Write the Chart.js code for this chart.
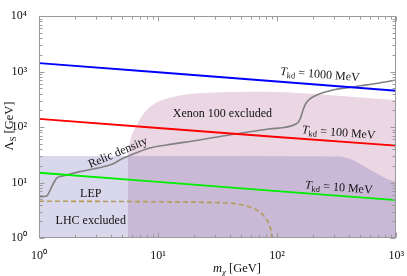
<!DOCTYPE html>
<html><head><meta charset="utf-8">
<script src="https://cdn.jsdelivr.net/npm/chart.js@4"></script>
<style>html,body{margin:0;padding:0;background:#fff}#wrap{width:407px;height:276px;position:relative}</style>
</head><body><div id="wrap"><canvas id="c"></canvas></div>
<script>
// ---- data ----
const tkdMass = [1, 10, 100, 1000];
const tkd1000 = [1420, 970, 660, 450];
const tkd100 = [140, 96, 66, 46];
const tkd10 = [15, 10.3, 7.0, 4.8];

const relicMass = [1, 1.16, 1.21, 1.28, 1.41, 1.59, 2.2, 3.04, 4.16, 4.76, 5.77, 8.5, 11.8, 22.2, 39.6, 85, 144, 156, 165, 175, 193, 225, 294, 432, 674, 1000];
const relicLambda = [5.55, 5.7, 6.5, 8.4, 12.0, 13.1, 15.7, 18.0, 21.5, 25.4, 30.6, 41.9, 47.4, 58.3, 72, 92, 113, 139, 202, 271, 333, 393, 464, 526, 608, 703];

const xenonMass = [5.56, 5.7, 6.0, 6.5, 7.2, 8.2, 9.7, 12, 15, 22, 40, 80, 150, 272, 500, 1000];
const xenonLambda = [29, 45, 70, 100, 150, 210, 275, 330, 370, 405, 428, 430, 410, 377, 340, 306];

const lhcMass = [1, 5.56, 330, 420, 530, 670, 860, 1000];
const lhcLambda = [30, 30, 29.5, 26, 20, 15, 11.3, 10.2];

const lepMass = [1, 10, 22, 42, 58, 71, 80, 87, 89.5, 90.3];
const lepLambda = [4.6, 4.5, 4.4, 4.2, 3.66, 2.98, 2.29, 1.6, 1.25, 1.0];

const xTickValues = [1, 10, 100, 1000];
const xTickLabels = ['10\u2070', '10\u00B9', '10\u00B2', '10\u00B3'];
const yTickValues = [1, 10, 100, 1000, 10000];
const yTickLabels = ['10\u2070', '10\u00B9', '10\u00B2', '10\u00B3', '10\u2074'];

// ---- helpers ----
const pts = (xs, ys) => xs.map((x, i) => ({x, y: ys[i]}));
const SERIF = '"Liberation Serif", "Times New Roman", serif';
const C_LHC = '#d9d7eb', C_XE = '#ebd7e3', C_OV = '#c9b9d6';

function logTicks(min, max) {
  const out = [];
  for (let e = Math.round(Math.log10(min)); e <= Math.round(Math.log10(max)); e++) {
    for (let k = 1; k <= 9; k++) {
      const v = k * Math.pow(10, e);
      if (v >= min * 0.999 && v <= max * 1.001) out.push({value: v, major: k === 1});
    }
  }
  return out;
}

function drawRich(ctx, segs, cx, cy, ang) {
  ctx.save();
  ctx.translate(cx, cy);
  ctx.rotate(ang * Math.PI / 180);
  const f = s => (s.it ? 'italic ' : '') + s.size + 'px ' + SERIF;
  let total = 0;
  segs.forEach(s => { ctx.font = f(s); s.w = ctx.measureText(s.t).width; total += s.w; });
  let x = -total / 2;
  ctx.textBaseline = 'alphabetic';
  ctx.fillStyle = '#111';
  segs.forEach(s => { ctx.font = f(s); ctx.fillText(s.t, x, 4 + (s.dy || 0)); x += s.w; });
  ctx.restore();
}

const labels = [
  {m: 229, l: 900, ang: 4.4, segs: [{t: 'T', it: 1, size: 12}, {t: 'kd', size: 8.5, dy: 2.5}, {t: ' = 1000 MeV', size: 12}]},
  {m: 330, l: 81, ang: 4.4, segs: [{t: 'T', it: 1, size: 12}, {t: 'kd', size: 8.5, dy: 2.5}, {t: ' = 100 MeV', size: 12}]},
  {m: 330, l: 8.3, ang: 4.4, segs: [{t: 'T', it: 1, size: 12}, {t: 'kd', size: 8.5, dy: 2.5}, {t: ' = 10 MeV', size: 12}]},
  {m: 34.7, l: 179, ang: 0, segs: [{t: 'Xenon 100 excluded', size: 12}]},
  {m: 4.58, l: 35.4, ang: -23, segs: [{t: 'Relic density', size: 12}]},
  {m: 2.72, l: 6.47, ang: 0, segs: [{t: 'LEP', size: 12}]},
  {m: 2.72, l: 2.11, ang: 0, segs: [{t: 'LHC excluded', size: 12}]}
];

const decor = {
  id: 'decor',
  afterDatasetsDraw(chart) {
    const {ctx, chartArea: a, scales: {x, y}} = chart;
    ctx.save();
    ctx.strokeStyle = '#9a9a9a';
    ctx.lineWidth = 1;
    const L = Math.round(a.left) + 0.5, R = Math.round(a.right) - 0.5;
    const T = Math.round(a.top) + 0.5, B = Math.round(a.bottom) - 0.5;
    ctx.strokeRect(L, T, R - L, B - T);
    ctx.beginPath();
    x.ticks.forEach(t => {
      const px = Math.round(x.getPixelForValue(t.value)) + 0.5;
      const len = t.major ? 5 : 3;
      ctx.moveTo(px, B); ctx.lineTo(px, B - len);
      ctx.moveTo(px, T); ctx.lineTo(px, T + len);
    });
    y.ticks.forEach(t => {
      const py = Math.round(y.getPixelForValue(t.value)) + 0.5;
      const len = t.major ? 5 : 3;
      ctx.moveTo(L, py); ctx.lineTo(L + len, py);
      ctx.moveTo(R, py); ctx.lineTo(R - len, py);
    });
    ctx.stroke();
    ctx.restore();
    labels.forEach(lb => drawRich(ctx, lb.segs, x.getPixelForValue(lb.m), y.getPixelForValue(lb.l), lb.ang));
    // axis titles
    drawRich(ctx, [{t: 'm', it: 1, size: 12.5}, {t: '\u03C7', it: 1, size: 9, dy: 3}, {t: ' [GeV]', size: 12.5}], a.left + 198, a.bottom + 30, 0);
    drawRich(ctx, [{t: '\u039B', size: 12.5}, {t: 'S', size: 8.5, dy: 2.5}, {t: ' [GeV]', size: 12.5}], 9, (a.top + a.bottom) / 2 - 1, -90);
  }
};

const tickCb = (vals, labs) => v => { const i = vals.findIndex(q => Math.abs(q - v) / q < 1e-6); return i >= 0 ? labs[i] : ''; };

new Chart(document.getElementById('c'), {
  type: 'line',
  data: {
    datasets: [
      {data: pts(lhcMass, lhcLambda), order: 10, fill: 'start', backgroundColor: C_LHC, borderWidth: 0, pointRadius: 0},
      {data: pts(xenonMass, xenonLambda), order: 9, fill: 'start', backgroundColor: C_XE, borderWidth: 0, pointRadius: 0, cubicInterpolationMode: 'monotone'},
      {data: pts(lhcMass, lhcLambda).filter(p => p.x >= 5.56), order: 8, fill: 'start', backgroundColor: C_OV, borderWidth: 0, pointRadius: 0, cubicInterpolationMode: 'monotone'},
      {data: pts(lepMass, lepLambda), order: 5, fill: false, borderColor: '#b39b5c', borderWidth: 1.6, borderDash: [5, 3], pointRadius: 0, cubicInterpolationMode: 'monotone'},
      {data: pts(relicMass, relicLambda), order: 4, fill: false, borderColor: '#808080', borderWidth: 1.6, pointRadius: 0, cubicInterpolationMode: 'monotone'},
      {data: pts(tkdMass, tkd1000), order: 3, fill: false, borderColor: '#0000ff', borderWidth: 1.8, pointRadius: 0},
      {data: pts(tkdMass, tkd100), order: 2, fill: false, borderColor: '#ff0000', borderWidth: 1.8, pointRadius: 0},
      {data: pts(tkdMass, tkd10), order: 1, fill: false, borderColor: '#00ee00', borderWidth: 1.8, pointRadius: 0}
    ]
  },
  options: {
    responsive: true, maintainAspectRatio: false, animation: false, events: [],
    layout: {padding: {top: 16, right: 10, left: 0, bottom: 0}},
    plugins: {legend: {display: false}, tooltip: {enabled: false}},
    scales: {
      x: {
        type: 'logarithmic', min: 1, max: 1000,
        grid: {display: false}, border: {display: false},
        afterBuildTicks: s => { s.ticks = logTicks(1, 1000); },
        afterFit: s => { s.height = 38; },
        ticks: {autoSkip: false, maxRotation: 0, padding: 3, color: '#111', font: {family: SERIF, size: 12}, callback: tickCb(xTickValues, xTickLabels)}
      },
      y: {
        type: 'logarithmic', min: 1, max: 10000,
        grid: {display: false}, border: {display: false},
        afterBuildTicks: s => { s.ticks = logTicks(1, 10000); },
        afterFit: s => { s.width = 39; },
        ticks: {autoSkip: false, padding: 4, color: '#111', font: {family: SERIF, size: 12}, callback: tickCb(yTickValues, yTickLabels)}
      }
    }
  },
  plugins: [decor]
});
</script></body></html>
